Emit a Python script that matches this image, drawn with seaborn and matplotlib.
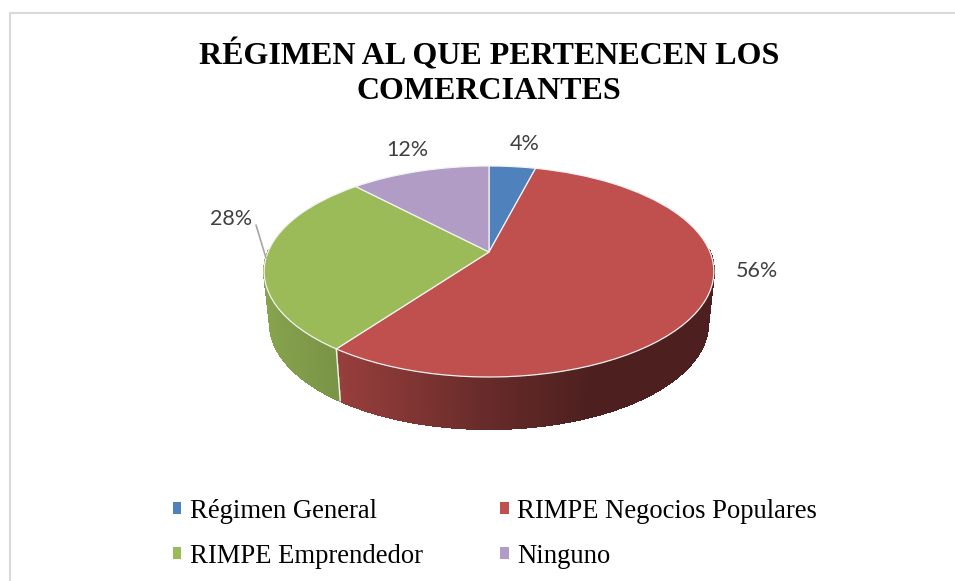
import numpy as np
import matplotlib
matplotlib.use("Agg")
import matplotlib.pyplot as plt
from matplotlib.lines import Line2D
from matplotlib.patches import Patch
from matplotlib.transforms import Transform
import seaborn as sns

# ---- data ----
categories = ["Régimen General", "RIMPE Negocios Populares", "RIMPE Emprendedor", "Ninguno"]
values = [4, 56, 28, 12]
value_labels = ["4%", "56%", "28%", "12%"]
title_text = "RÉGIMEN AL QUE PERTENECEN LOS\nCOMERCIANTES"
colors = ["#4f81bd", "#c0504d", "#9bbb59", "#b09cc4"]

sns.set_theme(style="white")
palette = sns.color_palette(colors)
SERIF = "Liberation Serif"

# ---- perspective geometry of the pie, in figure pixels ----
CX, CY = 489.0, 252.0
RX, RY = 221.0, 101.9
PERSP = 0.1848
DEPTH = 52.0
BASE_SCALE = 0.974


def project(x, y):
    w = 1 + PERSP * y
    return CX + RX * x / w, CY - RY * y / w


class TiltedDisc(Transform):
    input_dims = 2
    output_dims = 2
    is_separable = False
    has_inverse = False

    def transform_non_affine(self, values):
        xy = np.asarray(values, dtype=float)
        px, py = project(xy[:, 0], xy[:, 1])
        return np.column_stack([px, py])


def shade(px):
    return np.interp(px, [265, 340, 490, 590, 720], [0.87, 0.78, 0.53, 0.40, 0.40])


fig = plt.figure(figsize=(9.55, 5.81), dpi=100, facecolor="white")
ax = fig.add_axes([0, 0, 1, 1])

# top face: a real pie, pushed through the perspective transform
wedges, _ = ax.pie(values, colors=palette, startangle=90, counterclock=False,
                   radius=1, center=(0, 0), frame=True,
                   wedgeprops=dict(edgecolor="#f2f2f2", linewidth=0.9))
ax.set_aspect("auto")
ax.set_xlim(0, 955)
ax.set_ylim(581, 0)
ax.set_axis_off()
tilt = TiltedDisc() + ax.transData
for w in wedges:
    w.set_transform(tilt)
    w.set_zorder(5)
    w.set_clip_on(False)

# side wall of the disc: hard-edged strips inside, a smooth line along the outer rim
edges = np.cumsum([0] + values) / np.sum(values) * 2 * np.pi
rim = []
for i, base in enumerate(palette):
    start, stop = edges[i], edges[i + 1]
    n = max(2, int((stop - start) / np.radians(1.0)))
    th = np.linspace(start, stop, n + 1)
    for a, b in zip(th[:-1], th[1:]):
        mid = (a + b) / 2
        if np.cos(mid) > 0.02:
            continue
        xa, ya = project(np.sin(a), np.cos(a))
        xb, yb = project(np.sin(b), np.cos(b))
        lxa, lxb = CX + (xa - CX) * BASE_SCALE, CX + (xb - CX) * BASE_SCALE
        col = tuple(np.array(base) * shade((xa + xb) / 2))
        ax.fill([xa, xb, lxb, lxa], [ya, yb, yb + DEPTH, ya + DEPTH], color=col,
                lw=0.8, antialiased=False, zorder=2)
        ax.plot([lxa, lxb], [ya + DEPTH, yb + DEPTH], color=col, lw=1.0,
                solid_capstyle="round", zorder=3)
        rim.append((xa, ya, lxa, col))

# outer silhouette edges of the wall, where the rim turns away
for xa, ya, lxa, col in (min(rim, key=lambda r: r[0]), max(rim, key=lambda r: r[0])):
    ax.plot([xa, lxa], [ya, ya + DEPTH], color=col, lw=1.0, zorder=3)

# light seam where two slices meet on the wall
for i in range(len(values) - 1):
    stop = edges[i + 1]
    if np.cos(stop) < -0.1:
        xs, ys = project(np.sin(stop), np.cos(stop))
        ax.plot([xs, CX + (xs - CX) * BASE_SCALE], [ys, ys + DEPTH],
                color="#f2f2f2", lw=1.0, zorder=4)

# chart frame (top and left edges are what the crop shows)
ax.plot([9.5, 9.5, 955], [581, 13, 13], color="#d9d9d9", lw=1.5, zorder=1)

# title
ax.text(489, 73, title_text, family=SERIF, fontweight="bold", fontsize=23,
        color="black", ha="center", va="center", linespacing=1.27, zorder=6)

# value labels
label_pos = [(525, 144), (757, 271), (231, 219), (407, 150)]
for txt, (lx, ly) in zip(value_labels, label_pos):
    ax.text(lx, ly, txt, family="Lato", fontsize=15.5, color="#404040",
            ha="center", va="center", zorder=6)
ax.add_line(Line2D([256, 266], [225, 258], color="#a6a6a6", lw=1.2, zorder=6))

# legend: reading order runs across the rows, matplotlib fills by column
order = [0, 2, 1, 3]
handles = [Patch(facecolor=palette[i], edgecolor="none") for i in order]
leg = ax.legend(handles, [categories[i] for i in order], ncols=2, frameon=False,
                loc="lower left", bbox_to_anchor=(173 / 955, 1 - 569 / 581),
                borderaxespad=0, borderpad=0,
                prop=dict(family=SERIF, size=19.2), labelcolor="black",
                handlelength=0.31, handleheight=0.31, handletextpad=0.33,
                columnspacing=2.9, labelspacing=0.76)

fig.savefig("out.png", dpi=100, facecolor="white")
